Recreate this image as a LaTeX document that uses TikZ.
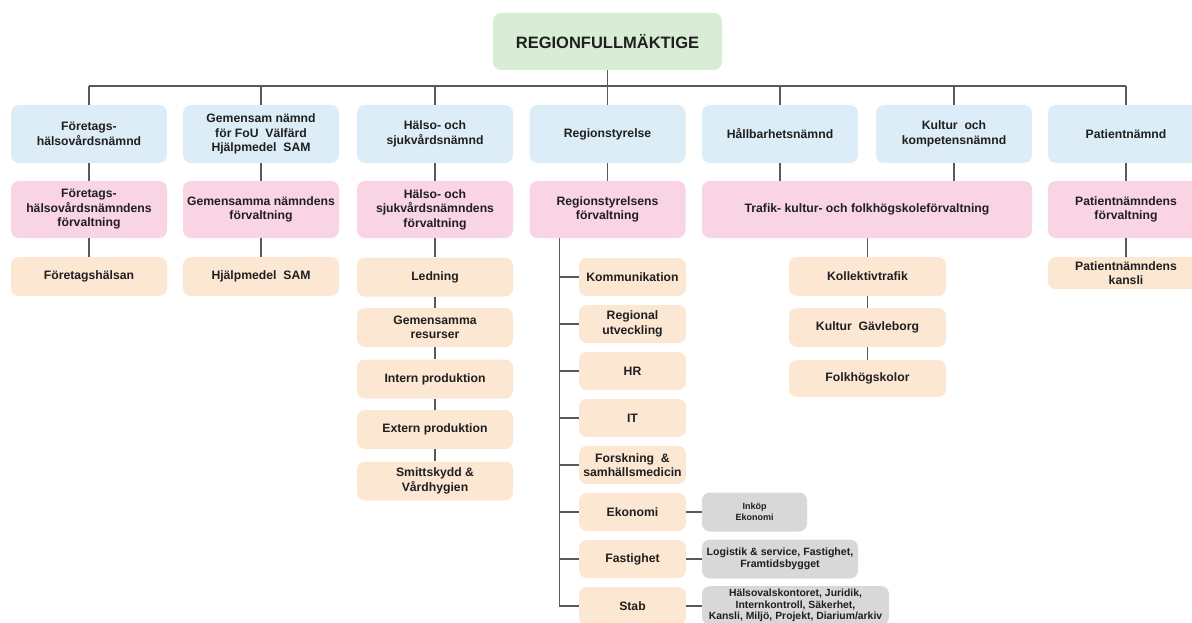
\documentclass[tikz,border=0pt]{standalone}
\usepackage{fontspec}
\setmainfont{Liberation Sans}
\definecolor{nblue}{HTML}{DCEDF8}
\definecolor{fpink}{HTML}{F9D4E4}
\definecolor{epeach}{HTML}{FCE7D2}
\definecolor{rgreen}{HTML}{D9EDD6}
\definecolor{sgray}{HTML}{D8D8D8}
\begin{document}
\begin{tikzpicture}[x=1pt,y=-1pt,
  box/.style={rounded corners=8pt, align=center, inner sep=0pt, text=black!88,
    font=\fontsize{12.2}{14.5}\selectfont\bfseries},
  nbox/.style={box, fill=nblue, minimum width=156pt, minimum height=58pt},
  fbox/.style={box, fill=fpink, minimum width=156pt, minimum height=57pt},
  ebox/.style={box, fill=epeach, minimum width=156pt, minimum height=39pt},
  sbox/.style={box, fill=epeach, minimum width=107pt, minimum height=38pt},
  gbox/.style={box, fill=sgray, minimum height=39pt,
    font=\fontsize{10.6}{12}\selectfont\bfseries},
  conn/.style={draw=black!65, line width=1.2pt}]

% page = reference size, right column runs off the edge
\useasboundingbox (0,0) rectangle (1192,623);
\clip (0,0) rectangle (1192,623);

% top
\node[box, fill=rgreen, minimum width=229pt, minimum height=57pt,
  font=\fontsize{16.5}{18}\selectfont\bfseries] (rf) at (607.5,41.5) {REGIONFULLMÄKTIGE};
\coordinate (bus) at (0,86);

% nämnder
\node[nbox] (n1) at (89,134) {Företags-\\hälsovårdsnämnd};
\node[nbox] (n2) at (261,134) {Gemensam nämnd\\för FoU \ Välfärd\\Hjälpmedel \ SAM};
\node[nbox] (n3) at (435,134) {Hälso- och\\sjukvårdsnämnd};
\node[nbox] (n4) at (607.5,134) {Regionstyrelse};
\node[nbox] (n5) at (780,134) {Hållbarhetsnämnd};
\node[nbox] (n6) at (954,134) {Kultur \ och\\kompetensnämnd};
\node[nbox] (n7) at (1126,134) {Patientnämnd};

% förvaltningar
\node[fbox] (f1) at (89,209.5) {Företags-\\hälsovårdsnämndens\\förvaltning};
\node[fbox] (f2) at (261,209.5) {Gemensamma nämndens\\förvaltning};
\node[fbox] (f3) at (435,209.5) {Hälso- och\\sjukvårdsnämndens\\förvaltning};
\node[fbox] (f4) at (607.5,209.5) {Regionstyrelsens\\förvaltning};
\node[fbox, minimum width=330pt] (f56) at (867,209.5) {Trafik- kultur- och folkhögskoleförvaltning};
\node[fbox] (f7) at (1126,209.5) {Patientnämndens\\förvaltning};

% enheter
\node[ebox] (fh) at (89,276.5) {Företagshälsan};
\node[ebox] (hs) at (261,276.5) {Hjälpmedel \ SAM};

\node[ebox] (led) at (435,277) {Ledning};
\node[ebox] (gem) at (435,327.5) {Gemensamma\\resurser};
\node[ebox] (intern) at (435,379) {Intern produktion};
\node[ebox] (extern) at (435,429.5) {Extern produktion};
\node[ebox] (smitt) at (435,481) {Smittskydd \&\\Vårdhygien};

\node[sbox] (kom) at (632.5,277) {Kommunikation};
\node[sbox] (reg) at (632.5,324) {Regional\\utveckling};
\node[sbox] (hr) at (632.5,371) {HR};
\node[sbox] (it) at (632.5,418) {IT};
\node[sbox] (fou) at (632.5,465) {Forskning \ \&\\samhällsmedicin};
\node[sbox] (eko) at (632.5,512) {Ekonomi};
\node[sbox] (fast) at (632.5,559) {Fastighet};
\node[sbox] (stab) at (632.5,606) {Stab};

\node[gbox, minimum width=105pt, font=\fontsize{9}{11.5}\selectfont\bfseries] (ink) at (754.5,512) {Inköp\\Ekonomi};
\node[gbox, minimum width=156pt] (log) at (780,559) {Logistik \& service, Fastighet,\\Framtidsbygget};
\node[gbox, minimum width=187pt, font=\fontsize{10.4}{11.2}\selectfont\bfseries] (hval) at (795.5,605.5)
  {Hälsovalskontoret, Juridik,\\Internkontroll, Säkerhet,\\Kansli, Miljö, Projekt, Diarium/arkiv};

\node[ebox, minimum width=157pt] (kol) at (867.5,276.5) {Kollektivtrafik};
\node[ebox, minimum width=157pt] (kul) at (867.5,327.5) {Kultur \ Gävleborg};
\node[ebox, minimum width=157pt, minimum height=37pt] (folk) at (867.5,378.5) {Folkhögskolor};

\node[ebox, minimum height=32pt] (kansli) at (1126,273) {Patientnämndens\\kansli};

% connectors
\draw[conn] (rf.south) -- (rf.south |- bus);
\draw[conn] (n1.north |- bus) -- (n7.north |- bus);
\foreach \n in {n1,n2,n3,n4,n5,n6,n7}
  \draw[conn] (\n.north) -- (\n.north |- bus);

\foreach \a/\b in {n1/f1,n2/f2,n3/f3,n4/f4,n7/f7,f1/fh,f2/hs,f3/led,led/gem,gem/intern,intern/extern,extern/smitt,kol/kul,kul/folk,f7/kansli}
  \draw[conn] (\a.south) -- (\b.north);
\draw[conn] (n5.south) -- (n5.south |- f56.north);
\draw[conn] (n6.south) -- (n6.south |- f56.north);
\draw[conn] (f56.south -| kol.north) -- (kol.north);

% regionstyrelsens förvaltning
\coordinate (trunk) at ([xshift=30pt]f4.south west);
\draw[conn] (trunk) |- (stab.west);
\foreach \n in {kom,reg,hr,it,fou,eko,fast}
  \draw[conn] (\n.west) -- (\n.west -| trunk);
\draw[conn] (eko.east) -- (ink.west);
\draw[conn] (fast.east) -- (log.west);
\draw[conn] (stab.east) -- (stab.east -| hval.west);
\end{tikzpicture}
\end{document}
